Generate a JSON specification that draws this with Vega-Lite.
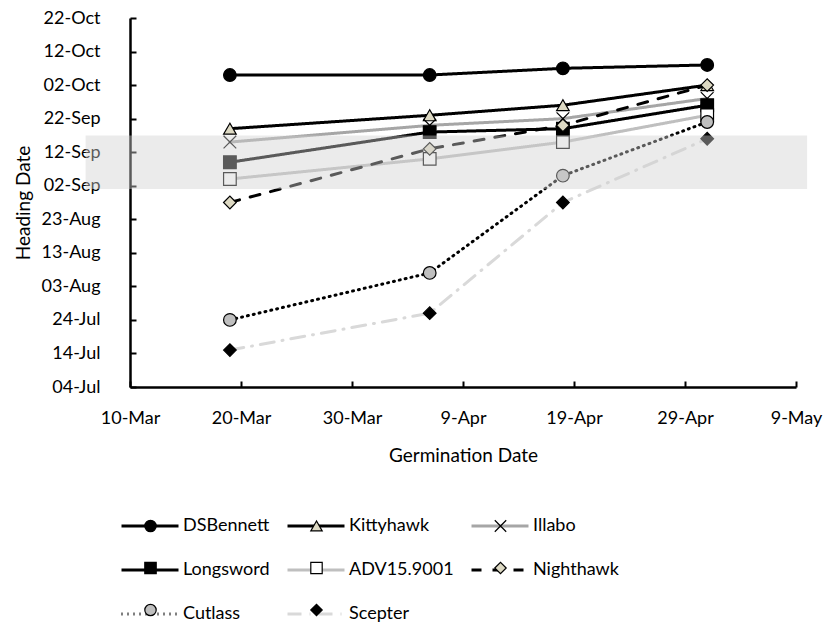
{
  "$schema": "https://vega.github.io/schema/vega-lite/v6.json",
  "width": 666,
  "height": 369,
  "autosize": {"type": "none"},
  "padding": {"left": 130, "top": 18, "right": 32, "bottom": 238},
  "background": "white",
  "config": {
    "view": {"stroke": null},
    "font": "Lato",
    "axis": {
      "grid": false,
      "domainColor": "black",
      "domainWidth": 2.5,
      "tickColor": "black",
      "tickWidth": 2,
      "tickSize": -6,
      "labelFont": "Lato",
      "labelFontSize": 18,
      "labelColor": "black",
      "labelOverlap": false,
      "titleFont": "Lato",
      "titleFontSize": 19,
      "titleFontWeight": "normal",
      "titleColor": "black"
    },
    "legend": {
      "labelFont": "Lato",
      "labelFontSize": 18,
      "labelColor": "black",
      "padding": 0
    }
  },
  "datasets": {
    "heading": [
      {"variety": "DSBennett", "germination": "2019/03/19", "heading": "2019/10/05"},
      {"variety": "DSBennett", "germination": "2019/04/06", "heading": "2019/10/05"},
      {"variety": "DSBennett", "germination": "2019/04/18", "heading": "2019/10/07"},
      {"variety": "DSBennett", "germination": "2019/05/01", "heading": "2019/10/08"},
      {"variety": "Kittyhawk", "germination": "2019/03/19", "heading": "2019/09/19"},
      {"variety": "Kittyhawk", "germination": "2019/04/06", "heading": "2019/09/23"},
      {"variety": "Kittyhawk", "germination": "2019/04/18", "heading": "2019/09/26"},
      {"variety": "Kittyhawk", "germination": "2019/05/01", "heading": "2019/10/02"},
      {"variety": "Illabo", "germination": "2019/03/19", "heading": "2019/09/15"},
      {"variety": "Illabo", "germination": "2019/04/06", "heading": "2019/09/20"},
      {"variety": "Illabo", "germination": "2019/04/18", "heading": "2019/09/22"},
      {"variety": "Illabo", "germination": "2019/05/01", "heading": "2019/09/28"},
      {"variety": "Longsword", "germination": "2019/03/19", "heading": "2019/09/09"},
      {"variety": "Longsword", "germination": "2019/04/06", "heading": "2019/09/18"},
      {"variety": "Longsword", "germination": "2019/04/18", "heading": "2019/09/19"},
      {"variety": "Longsword", "germination": "2019/05/01", "heading": "2019/09/26"},
      {"variety": "ADV15.9001", "germination": "2019/03/19", "heading": "2019/09/04"},
      {"variety": "ADV15.9001", "germination": "2019/04/06", "heading": "2019/09/10"},
      {"variety": "ADV15.9001", "germination": "2019/04/18", "heading": "2019/09/15"},
      {"variety": "ADV15.9001", "germination": "2019/05/01", "heading": "2019/09/23"},
      {"variety": "Nighthawk", "germination": "2019/03/19", "heading": "2019/08/28"},
      {"variety": "Nighthawk", "germination": "2019/04/06", "heading": "2019/09/13"},
      {"variety": "Nighthawk", "germination": "2019/04/18", "heading": "2019/09/20"},
      {"variety": "Nighthawk", "germination": "2019/05/01", "heading": "2019/10/02"},
      {"variety": "Cutlass", "germination": "2019/03/19", "heading": "2019/07/24"},
      {"variety": "Cutlass", "germination": "2019/04/06", "heading": "2019/08/07"},
      {"variety": "Cutlass", "germination": "2019/04/18", "heading": "2019/09/05"},
      {"variety": "Cutlass", "germination": "2019/05/01", "heading": "2019/09/21"},
      {"variety": "Scepter", "germination": "2019/03/19", "heading": "2019/07/15"},
      {"variety": "Scepter", "germination": "2019/04/06", "heading": "2019/07/26"},
      {"variety": "Scepter", "germination": "2019/04/18", "heading": "2019/08/28"},
      {"variety": "Scepter", "germination": "2019/05/01", "heading": "2019/09/16"}
    ],
    "band": [
      {"start": "2019/03/06", "end": "2019/05/10", "low": "2019/09/01", "high": "2019/09/17"}
    ]
  },
  "layer": [
    {
      "data": {"name": "heading"},
      "mark": {"type": "line", "strokeWidth": 3, "strokeCap": "round", "strokeJoin": "round"},
      "encoding": {
        "x": {
          "field": "germination", "type": "temporal",
          "scale": {"domain": [{"year": 2019, "month": 3, "date": 10}, {"year": 2019, "month": 5, "date": 9}], "nice": false},
          "axis": {
            "title": "Germination Date",
            "format": "%-d-%b",
            "values": [
              {"year": 2019, "month": 3, "date": 10}, {"year": 2019, "month": 3, "date": 20},
              {"year": 2019, "month": 3, "date": 30}, {"year": 2019, "month": 4, "date": 9},
              {"year": 2019, "month": 4, "date": 19}, {"year": 2019, "month": 4, "date": 29},
              {"year": 2019, "month": 5, "date": 9}
            ],
            "tickCount": 30,
            "labelPadding": 28,
            "labelFlush": false,
            "labelOverlap": false,
            "titlePadding": 19
          }
        },
        "y": {
          "field": "heading", "type": "temporal",
          "scale": {"domain": [{"year": 2019, "month": 7, "date": 4}, {"year": 2019, "month": 10, "date": 22}], "nice": false},
          "axis": {
            "title": "Heading Date",
            "format": "%d-%b",
            "values": [
              {"year": 2019, "month": 7, "date": 4}, {"year": 2019, "month": 7, "date": 14},
              {"year": 2019, "month": 7, "date": 24}, {"year": 2019, "month": 8, "date": 3},
              {"year": 2019, "month": 8, "date": 13}, {"year": 2019, "month": 8, "date": 23},
              {"year": 2019, "month": 9, "date": 2}, {"year": 2019, "month": 9, "date": 12},
              {"year": 2019, "month": 9, "date": 22}, {"year": 2019, "month": 10, "date": 2},
              {"year": 2019, "month": 10, "date": 12}, {"year": 2019, "month": 10, "date": 22}
            ],
            "tickCount": 30,
            "labelPadding": 36,
            "labelFlush": false,
            "labelOverlap": false,
            "titlePadding": 8
          }
        },
        "stroke": {
          "field": "variety", "type": "nominal",
          "scale": {
            "domain": ["DSBennett", "Kittyhawk", "Illabo", "Longsword", "ADV15.9001", "Nighthawk", "Cutlass", "Scepter"],
            "range": ["#000000", "#000000", "#a6a6a6", "#000000", "#bfbfbf", "#000000", "#000000", "#d9d9d9"]
          },
          "legend": {
            "title": null, "orient": "none", "legendX": -10, "legendY": 478,
            "direction": "horizontal", "columns": 3, "columnPadding": 11, "rowPadding": 5, "gridAlign": "each",
            "symbolType": "stroke", "symbolSize": 3249, "symbolStrokeWidth": 3, "labelOffset": 3
          }
        },
        "strokeDash": {
          "field": "variety", "type": "nominal",
          "scale": {
            "domain": ["DSBennett", "Kittyhawk", "Illabo", "Longsword", "ADV15.9001", "Nighthawk", "Cutlass", "Scepter"],
            "range": [[1, 0], [1, 0], [1, 0], [1, 0], [1, 0], [10, 11], [1, 5], [14, 8, 1, 8]]
          },
          "legend": {
            "title": null, "orient": "none", "legendX": -10, "legendY": 478,
            "direction": "horizontal", "columns": 3, "columnPadding": 11, "rowPadding": 5, "gridAlign": "each",
            "symbolType": "stroke", "symbolSize": 3249, "symbolStrokeWidth": 3, "labelOffset": 3
          }
        }
      }
    },
    {
      "data": {"name": "heading"},
      "mark": {"type": "point", "filled": true, "opacity": 1, "size": 160, "stroke": "black", "strokeWidth": 1.2},
      "encoding": {
        "x": {"field": "germination", "type": "temporal", "scale": {"domain": [{"year": 2019, "month": 3, "date": 10}, {"year": 2019, "month": 5, "date": 9}], "nice": false}},
        "y": {"field": "heading", "type": "temporal", "scale": {"domain": [{"year": 2019, "month": 7, "date": 4}, {"year": 2019, "month": 10, "date": 22}], "nice": false}},
        "shape": {
          "field": "variety", "type": "nominal",
          "scale": {
            "domain": ["Scepter", "Cutlass", "Nighthawk", "ADV15.9001", "Longsword", "Illabo", "Kittyhawk", "DSBennett"],
            "range": ["diamond", "circle", "diamond", "square", "square", "M-1,-1L1,1M-1,1L1,-1", "triangle-up", "circle"]
          },
          "legend": {
            "title": null, "orient": "none", "legendX": 11.5, "legendY": 499,
            "values": ["DSBennett", "Kittyhawk", "Illabo", "Longsword", "ADV15.9001", "Nighthawk", "Cutlass", "Scepter"],
            "direction": "horizontal", "columns": 3, "columnPadding": 11, "rowPadding": 24, "gridAlign": "each",
            "symbolSize": 130, "symbolStrokeWidth": 1.2, "labelOffset": 50, "labelOpacity": 0
          }
        },
        "fill": {
          "field": "variety", "type": "nominal",
          "scale": {
            "domain": ["Scepter", "Cutlass", "Nighthawk", "ADV15.9001", "Longsword", "Illabo", "Kittyhawk", "DSBennett"],
            "range": ["#000000", "#bfbfbf", "#ddd9c3", "#ffffff", "#000000", "#000000", "#ddd9c3", "#000000"]
          },
          "legend": {
            "title": null, "orient": "none", "legendX": 11.5, "legendY": 499,
            "values": ["DSBennett", "Kittyhawk", "Illabo", "Longsword", "ADV15.9001", "Nighthawk", "Cutlass", "Scepter"],
            "direction": "horizontal", "columns": 3, "columnPadding": 11, "rowPadding": 24, "gridAlign": "each",
            "symbolSize": 130, "symbolStrokeWidth": 1.2, "labelOffset": 50, "labelOpacity": 0
          }
        }
      }
    },
    {
      "data": {"name": "band"},
      "mark": {"type": "rect", "fill": "#d0d0d0", "opacity": 0.43},
      "encoding": {
        "x": {"field": "start", "type": "temporal", "scale": {"domain": [{"year": 2019, "month": 3, "date": 10}, {"year": 2019, "month": 5, "date": 9}], "nice": false}},
        "x2": {"field": "end"},
        "y": {"field": "low", "type": "temporal", "scale": {"domain": [{"year": 2019, "month": 7, "date": 4}, {"year": 2019, "month": 10, "date": 22}], "nice": false}},
        "y2": {"field": "high"}
      }
    }
  ]
}
